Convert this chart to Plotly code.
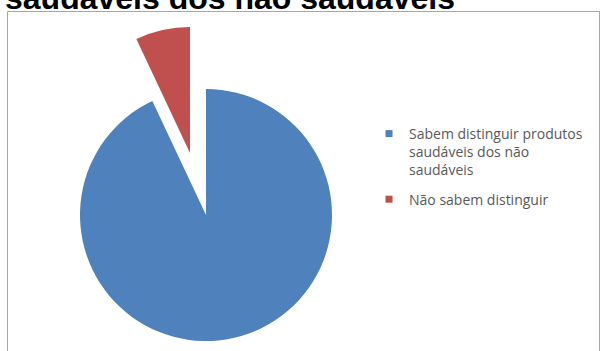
import plotly.graph_objects as go

# Survey answers: can the respondents tell healthy products from unhealthy ones?
labels = [
    "Sabem distinguir produtos<br>saudáveis dos não<br>saudáveis",
    "Não sabem distinguir",
]
values = [93, 7]
colors = ["#4F81BD", "#C0504D"]
title_text = "saudáveis dos não saudáveis"

W, H = 601, 351
CLEAR = "rgba(0,0,0,0)"


def px_dom_x(a, b):
    return [a / W, b / W]


def px_dom_y(top, bottom):
    return [1 - bottom / H, 1 - top / H]


# Pie geometry in pixels: main pie centre/radius and the offset of the exploded slice
cx, cy, r = 206, 215, 126
ex_dx, ex_dy = -16, -62

fig = go.Figure()

# Main body of the pie: only the first slice is painted
fig.add_trace(go.Pie(
    labels=labels, values=values, sort=False, direction="clockwise", rotation=0,
    marker=dict(colors=[colors[0], CLEAR], line=dict(width=0)),
    textinfo="none", hoverinfo="label+percent", showlegend=False,
    domain=dict(x=px_dom_x(cx - r, cx + r), y=px_dom_y(cy - r, cy + r)),
))

# Exploded slice: same pie, shifted outwards along the slice's mid-angle
fig.add_trace(go.Pie(
    labels=labels, values=values, sort=False, direction="clockwise", rotation=0,
    marker=dict(colors=[CLEAR, colors[1]], line=dict(width=0)),
    textinfo="none", hoverinfo="label+percent", showlegend=False,
    domain=dict(x=px_dom_x(cx + ex_dx - r, cx + ex_dx + r),
                y=px_dom_y(cy + ex_dy - r, cy + ex_dy + r)),
))

# Legend entries with small square swatches (one group each for extra spacing)
for i, (lab, col) in enumerate(zip(labels, colors)):
    fig.add_trace(go.Scatter(
        x=[None], y=[None], mode="markers", name=lab, legendgroup=f"g{i}",
        marker=dict(symbol="square", size=7, color=col),
        hoverinfo="skip",
    ))

# Chart frame
fig.add_shape(type="rect", xref="paper", yref="paper",
              x0=7.5 / W, x1=599.5 / W, y0=-0.1, y1=1 - 11.5 / H,
              line=dict(color="#A6A6A6", width=1), fillcolor="rgba(0,0,0,0)",
              layer="below")

fig.add_annotation(
    text=title_text, xref="paper", yref="paper",
    x=3 / W, y=1 - 18 / H, xanchor="left", yanchor="bottom",
    showarrow=False,
    font=dict(family="Liberation Sans, Arial, sans-serif", size=32,
              color="#000000", weight="bold"),
)

fig.update_layout(
    width=W, height=H,
    margin=dict(l=0, r=0, t=0, b=0),
    paper_bgcolor="white", plot_bgcolor="white",
    xaxis=dict(visible=False), yaxis=dict(visible=False),
    showlegend=True,
    legend=dict(
        x=369 / W, y=1 - 118 / H, xanchor="left", yanchor="top",
        font=dict(family="Open Sans, sans-serif", size=14, color="#595959"),
        bgcolor="rgba(0,0,0,0)", borderwidth=0, itemsizing="trace",
        valign="top", tracegroupgap=8, traceorder="grouped",
    ),
)

fig.write_html("out.html")
